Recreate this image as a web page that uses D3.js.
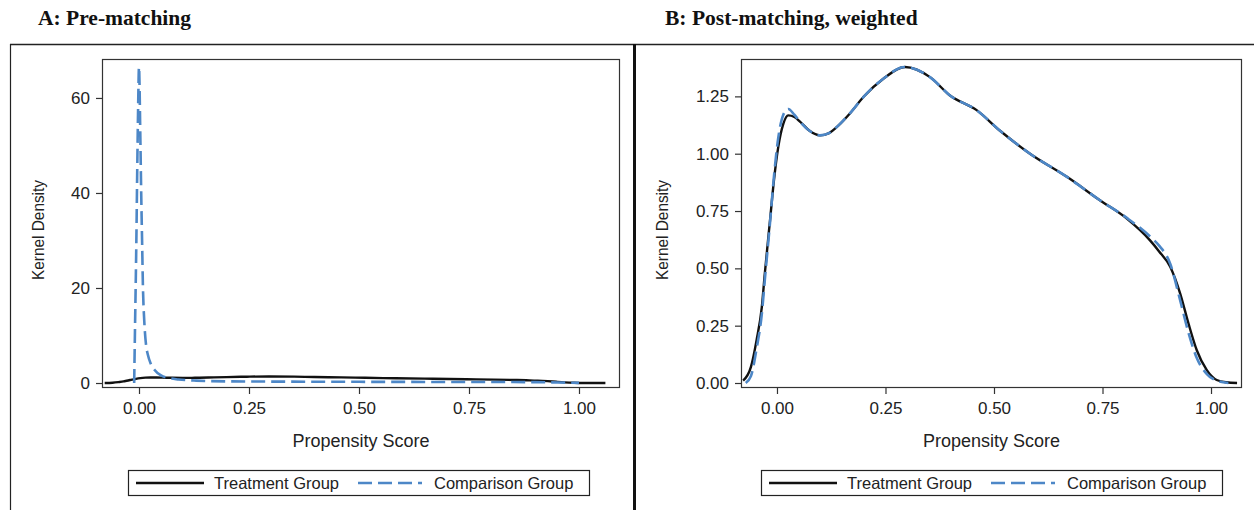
<!DOCTYPE html>
<html>
<head>
<meta charset="utf-8">
<script src="https://cdn.jsdelivr.net/npm/d3@7"></script>
<style>
  html, body { margin: 0; padding: 0; background: #fff; }
  svg { display: block; }
  text { font-family: "Liberation Sans", Arial, sans-serif; fill: #222; }
  .title { font-family: "Liberation Serif", "Times New Roman", serif; font-weight: bold; fill: #111; }
</style>
</head>
<body>
<svg id="chart" width="1254" height="510"></svg>
<script>
// ---- data ----
const panelTitles = ["A: Pre-matching", "B: Post-matching, weighted"];
const legendLabels = ["Treatment Group", "Comparison Group"];
const xAxisLabel = "Propensity Score";
const yAxisLabel = "Kernel Density";
const xTickValues = [0, 0.25, 0.5, 0.75, 1.0];
const yTicksA = [0, 20, 40, 60];
const yTicksB = [0, 0.25, 0.5, 0.75, 1.0, 1.25];

// Treatment group density (same sample in both panels)
const treatX = [-0.078, -0.06, -0.047, -0.035, -0.028, -0.016, -0.007, 0.003, 0.0146, 0.026, 0.04, 0.053, 0.075, 0.099, 0.12, 0.1375, 0.17, 0.199, 0.245, 0.295, 0.3525, 0.3986, 0.46, 0.514, 0.583, 0.668, 0.744, 0.806, 0.859, 0.88, 0.906, 0.929, 0.948, 0.967, 0.99, 1.013, 1.035, 1.06];
const treatY = [0.01, 0.07, 0.187, 0.33, 0.478, 0.71, 0.884, 1.03, 1.13, 1.167, 1.16, 1.14, 1.1, 1.08, 1.09, 1.116, 1.18, 1.247, 1.327, 1.378, 1.334, 1.254, 1.19, 1.10, 1.0, 0.899, 0.797, 0.717, 0.623, 0.575, 0.507, 0.39, 0.26, 0.144, 0.057, 0.013, 0.003, 0.0];

// Comparison group, pre-matching
const compAX = [-0.011, -0.009, -0.006, -0.004, -0.002, 0.0, 0.003, 0.005, 0.007, 0.009, 0.012, 0.016, 0.02, 0.027, 0.035, 0.05, 0.065, 0.09, 0.13, 0.2, 0.3, 0.5, 0.7, 0.85, 0.93, 0.97, 1.0];
const compAY = [0, 12, 30, 45, 58, 66.5, 52, 40, 30, 20, 13, 8, 6, 4, 2.8, 1.6, 1.1, 0.75, 0.5, 0.35, 0.3, 0.25, 0.22, 0.2, 0.15, 0.08, 0.02];

// Comparison group, post-matching weighted
const compBX = [-0.072, -0.06, -0.047, -0.035, -0.028, -0.016, -0.007, 0.003, 0.0146, 0.026, 0.04, 0.053, 0.075, 0.099, 0.12, 0.1375, 0.17, 0.199, 0.245, 0.295, 0.3525, 0.3986, 0.46, 0.514, 0.583, 0.668, 0.744, 0.806, 0.859, 0.88, 0.906, 0.929, 0.948, 0.967, 0.99, 1.013, 1.04];
const compBY = [0.0, 0.03, 0.15, 0.3, 0.45, 0.7, 0.9, 1.07, 1.17, 1.195, 1.17, 1.14, 1.1, 1.08, 1.09, 1.116, 1.18, 1.247, 1.327, 1.378, 1.334, 1.254, 1.19, 1.10, 1.0, 0.899, 0.797, 0.72, 0.64, 0.6, 0.52, 0.36, 0.22, 0.11, 0.04, 0.01, 0.0];

const treatColor = "#111111";
const compColor = "#4d87c7";
const fontStack = "'Liberation Sans', Arial, sans-serif";

const svg = d3.select("#chart");

// ---- outer frames ----
svg.append("line").attr("x1", 10).attr("x2", 1254).attr("y1", 44.5).attr("y2", 44.5)
  .attr("stroke", "#222").attr("stroke-width", 1.5);
svg.append("line").attr("x1", 10.5).attr("x2", 10.5).attr("y1", 44).attr("y2", 510)
  .attr("stroke", "#222").attr("stroke-width", 1.2);
svg.append("line").attr("x1", 634.5).attr("x2", 634.5).attr("y1", 44).attr("y2", 510)
  .attr("stroke", "#111").attr("stroke-width", 3);

function zip(xs, ys) { return xs.map((x, i) => [x, ys[i]]); }

const panels = [
  {
    title: panelTitles[0], titleX: 38,
    left: 102, right: 620, top: 59, bottom: 388,
    xDomain: [-0.0841, 1.0932], yDomain: [-1.05, 68.2],
    yTicks: yTicksA, yFmt: d3.format("d"),
    treat: zip(treatX, treatY), comp: zip(compAX, compAY),
    ylabX: 38, legendX: 128
  },
  {
    title: panelTitles[1], titleX: 665,
    left: 741, right: 1242, top: 59, bottom: 388,
    xDomain: [-0.0829, 1.0714], yDomain: [-0.0218, 1.413],
    yTicks: yTicksB, yFmt: d3.format(".2f"),
    treat: zip(treatX, treatY), comp: zip(compBX, compBY),
    ylabX: 662, legendX: 761
  }
];

panels.forEach(p => {
  const g = svg.append("g");
  g.append("text").attr("class", "title").attr("x", p.titleX).attr("y", 25)
    .attr("font-size", 21.5).text(p.title);

  const x = d3.scaleLinear().domain(p.xDomain).range([p.left, p.right]);
  const y = d3.scaleLinear().domain(p.yDomain).range([p.bottom, p.top]);

  const clipId = "clip" + p.left;
  svg.append("clipPath").attr("id", clipId).append("rect")
    .attr("x", p.left).attr("y", p.top).attr("width", p.right - p.left).attr("height", p.bottom - p.top);

  const line = d3.line().x(d => x(d[0])).y(d => y(d[1])).curve(d3.curveMonotoneX);

  const lines = g.append("g").attr("clip-path", `url(#${clipId})`);
  lines.append("path").datum(p.treat).attr("d", line)
    .attr("fill", "none").attr("stroke", treatColor).attr("stroke-width", 2.4)
    .attr("stroke-linejoin", "round");
  lines.append("path").datum(p.comp).attr("d", line)
    .attr("fill", "none").attr("stroke", compColor).attr("stroke-width", 2.6)
    .attr("stroke-dasharray", "14,6").attr("stroke-linejoin", "round");

  // plot border
  g.append("rect").attr("x", p.left + 0.5).attr("y", p.top + 0.5)
    .attr("width", p.right - p.left - 1).attr("height", p.bottom - p.top - 1)
    .attr("fill", "none").attr("stroke", "#333").attr("stroke-width", 1.2);

  // x axis
  const xAxis = g.append("g").attr("transform", `translate(0,${p.bottom})`)
    .call(d3.axisBottom(x).tickValues(xTickValues).tickFormat(d3.format(".2f")).tickSize(6).tickPadding(8));
  xAxis.select(".domain").remove();
  xAxis.attr("font-size", 17).attr("font-family", fontStack);
  xAxis.selectAll("line").attr("stroke", "#333").attr("stroke-width", 1.2);
  xAxis.selectAll("text").attr("fill", "#222");

  // y axis
  const yAxis = g.append("g").attr("transform", `translate(${p.left},0)`)
    .call(d3.axisLeft(y).tickValues(p.yTicks).tickFormat(p.yFmt).tickSize(6).tickPadding(6));
  yAxis.select(".domain").remove();
  yAxis.attr("font-size", 17).attr("font-family", fontStack);
  yAxis.selectAll("line").attr("stroke", "#333").attr("stroke-width", 1.2);
  yAxis.selectAll("text").attr("fill", "#222");

  // axis titles
  g.append("text").attr("x", (p.left + p.right) / 2).attr("y", 447)
    .attr("text-anchor", "middle").attr("font-size", 18).text(xAxisLabel);
  g.append("text").attr("transform", `translate(${p.ylabX},${230}) rotate(-90)`)
    .attr("text-anchor", "middle").attr("dy", "0.35em").attr("font-size", 16)
    .attr("textLength", 100).attr("lengthAdjust", "spacingAndGlyphs").text(yAxisLabel);

  // legend
  const lg = g.append("g").attr("transform", `translate(${p.legendX},470)`);
  lg.append("rect").attr("x", 0.5).attr("y", 0.5).attr("width", 461).attr("height", 25)
    .attr("fill", "#fff").attr("stroke", "#222").attr("stroke-width", 1.2);
  lg.append("line").attr("x1", 8).attr("x2", 76).attr("y1", 13).attr("y2", 13)
    .attr("stroke", treatColor).attr("stroke-width", 2.6);
  lg.append("text").attr("x", 86).attr("y", 19).attr("font-size", 16.5).text(legendLabels[0]);
  lg.append("line").attr("x1", 230).attr("x2", 294).attr("y1", 13).attr("y2", 13)
    .attr("stroke", compColor).attr("stroke-width", 2.6).attr("stroke-dasharray", "14,6");
  lg.append("text").attr("x", 306).attr("y", 19).attr("font-size", 16.5).text(legendLabels[1]);
});
</script>
</body>
</html>
